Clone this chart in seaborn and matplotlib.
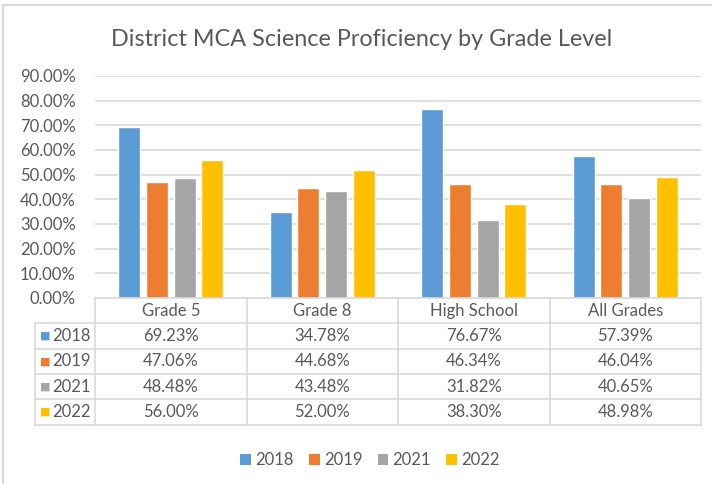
import numpy as np
import pandas as pd
import matplotlib
matplotlib.use("Agg")
import matplotlib.pyplot as plt
import seaborn as sns
from matplotlib.ticker import PercentFormatter
from matplotlib.patches import Rectangle
from matplotlib.lines import Line2D
import matplotlib.transforms as mtransforms

# Datos
grados = ['Grade 5', 'Grade 8', 'High School', 'All Grades']
anios = ['2018', '2019', '2021', '2022']
v2018 = [69.23, 34.78, 76.67, 57.39]
v2019 = [47.06, 44.68, 46.34, 46.04]
v2021 = [48.48, 43.48, 31.82, 40.65]
v2022 = [56.00, 52.00, 38.30, 48.98]
colores = ['#5B9BD5', '#ED7D31', '#A5A5A5', '#FFC000']

series = [v2018, v2019, v2021, v2022]
df = pd.DataFrame({
    'Grado': grados * len(anios),
    'Anio': [a for a in anios for _ in grados],
    'Valor': [v / 100 for s in series for v in s],
})

sns.set_theme(style="white")
plt.rcParams['font.family'] = ['Lato', 'DejaVu Sans']
texto = '#595959'
linea = '#D9D9D9'
fs = 12

W, H = 712, 484
fig = plt.figure(figsize=(W / 100, H / 100), dpi=100)
ax = fig.add_axes([95 / W, 1 - 298 / H, (701 - 95) / W, (298 - 76) / H])

sns.barplot(data=df, x='Grado', y='Valor', hue='Anio', palette=colores,
            width=0.73, gap=0.2, saturation=1, ax=ax, legend=False)

ax.set_ylim(0, 0.9)
ax.set_xlim(-0.5, len(grados) - 0.5)
ax.set_yticks(np.arange(0, 0.91, 0.1))
ax.yaxis.set_major_formatter(PercentFormatter(1.0, decimals=2))
ax.tick_params(axis='y', labelsize=fs, colors=texto, length=0, pad=14)
ax.set_xticks([])
ax.set_xlabel('')
ax.set_ylabel('')
ax.grid(axis='y', color=linea, linewidth=1.2)
ax.set_axisbelow(True)
for s in ax.spines.values():
    s.set_visible(False)

# Tabla de datos bajo el eje
tr = mtransforms.blended_transform_factory(ax.transData, ax.transAxes)
fila = 25.3 / (298 - 76)
n = len(anios)
lx0 = -0.5 - 60 / 151.5  # columna de etiquetas
lw = dict(color=linea, linewidth=1.2, transform=tr, clip_on=False)

# lineas horizontales
ax.add_line(Line2D([-0.5, len(grados) - 0.5], [0, 0], **lw))
for k in range(1, n + 2):
    ax.add_line(Line2D([lx0, len(grados) - 0.5], [-k * fila, -k * fila], **lw))
# lineas verticales
for i in range(len(grados) + 1):
    ax.add_line(Line2D([i - 0.5, i - 0.5], [0, -(n + 1) * fila], **lw))
ax.add_line(Line2D([lx0, lx0], [-fila, -(n + 1) * fila], **lw))

for i, g in enumerate(grados):
    ax.text(i, -0.5 * fila, g, transform=tr, ha='center', va='center',
            fontsize=fs, color=texto, clip_on=False)
for k, (a, s, c) in enumerate(zip(anios, series, colores)):
    y = -(k + 1.5) * fila
    ax.text(lx0 + 0.03, y, '\u25A0', transform=tr, ha='left', va='center',
            fontsize=8, color=c, clip_on=False, family='DejaVu Sans')
    ax.text(lx0 + 0.115, y, a, transform=tr, ha='left', va='center',
            fontsize=fs, color=texto, clip_on=False)
    for i, v in enumerate(s):
        ax.text(i, y, f'{v:.2f}%', transform=tr, ha='center', va='center',
                fontsize=fs, color=texto, clip_on=False)

# Leyenda
handles = [Rectangle((0, 0), 1, 1, facecolor=c, edgecolor='none') for c in colores]
fig.legend(handles, anios, loc='center', bbox_to_anchor=(370 / W, 1 - 460 / H),
           ncol=4, frameon=False, fontsize=fs, labelcolor=texto,
           handlelength=0.65, handleheight=0.65, handletextpad=0.25, columnspacing=0.9)

# Titulo
fig.text(362 / W, 1 - 40 / H, 'District MCA Science Proficiency by Grade Level',
         ha='center', va='center', fontsize=16.8, color=texto)

# Borde del grafico
fig.patches.append(Rectangle((3 / W, -0.05), 1.1, 1 - 5 / H + 0.05,
                             transform=fig.transFigure, fill=False,
                             edgecolor=linea, linewidth=1.5))

fig.savefig('out.png', dpi=100)
